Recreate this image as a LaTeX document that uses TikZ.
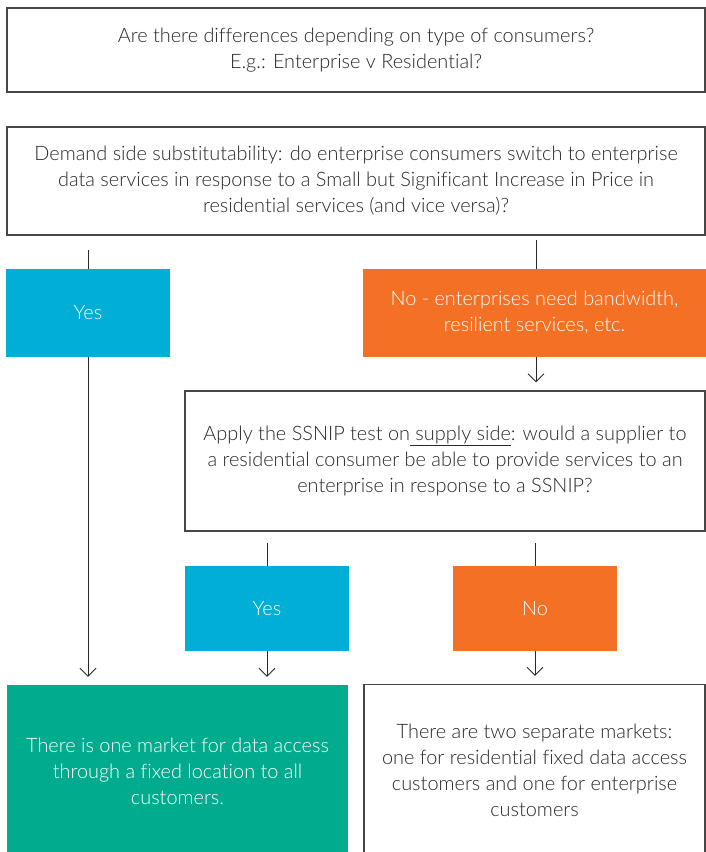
\documentclass[tikz,border=0pt]{standalone}
\usepackage{fontspec}
\setmainfont{Lato}[UprightFont=* Light, Ligatures=NoCommon]
\usetikzlibrary{arrows.meta}
\definecolor{cyanbox}{RGB}{0,174,214}
\definecolor{orangebox}{RGB}{243,112,36}
\definecolor{greenbox}{RGB}{0,171,142}
\definecolor{inkgray}{RGB}{40,40,40}
\definecolor{bordergray}{RGB}{70,70,70}
\begin{document}
\begin{tikzpicture}[x=1pt,y=-1pt,
  base/.style={rectangle, inner sep=0pt, align=center, font=\fontsize{19.9}{26}\selectfont},
  whitebox/.style={base, draw=bordergray, line width=1.2pt, fill=white, text=inkgray},
  cyanfill/.style={base, fill=cyanbox, text=white},
  orangefill/.style={base, fill=orangebox, text=white},
  greenfill/.style={base, fill=greenbox, text=white},
  link/.style={draw=inkgray, line width=0.9pt},
  arr/.style={link, -{Straight Barb[length=8pt,width=16pt]}, shorten >=8pt}
]
\useasboundingbox (0,0) rectangle (706,852);
\fill[white] (0,0) rectangle (706,852);

\node[whitebox, minimum width=698pt, minimum height=84pt] (q1) at (356,50)
  {Are there differences depending on type of consumers?\\E.g.: Enterprise v Residential?};
\node[whitebox, minimum width=698pt, minimum height=108pt] (q2) at (356,181)
  {Demand side substitutability: do enterprise consumers switch to enterprise\\data services in response to a Small but Significant Increase in Price in\\residential services (and vice versa)?};
\node[cyanfill, minimum width=164pt, minimum height=88pt] (yes1) at (88,313) {Yes};
\node[orangefill, minimum width=343pt, minimum height=88pt] (no1) at (534.5,313)
  {No - enterprises need bandwidth,\\resilient services, etc.};
\node[whitebox, minimum width=520pt, minimum height=140pt] (q3) at (445,461)
  {Apply the SSNIP test on\underline{ supply side}: would a supplier to\\a residential consumer be able to provide services to an\\enterprise in response to a SSNIP?};
\node[cyanfill, minimum width=164pt, minimum height=85pt] (yes2) at (267,608.5) {Yes};
\node[orangefill, minimum width=164pt, minimum height=85pt] (no2) at (535,608.5) {No};
\node[greenfill, minimum width=341pt, minimum height=172pt] (res1) at (177.5,771)
  {There is one market for data access\\through a fixed location to all\\customers.};
\node[whitebox, minimum width=341pt, minimum height=172pt] (res2) at (534.5,770.5)
  {There are two separate markets:\\one for residential fixed data access\\customers and one for enterprise\\customers};

\coordinate (s1) at (88,250);
\coordinate (s2) at (536,240);
\coordinate (s3) at (267,543);
\coordinate (s4) at (535,543);

\draw[link] (s1) -- (s1 |- yes1.north);
\draw[arr] (yes1.south) -- (yes1.south |- res1.north);
\draw[link] (s2) -- (s2 |- no1.north);
\draw[arr] (s2 |- no1.south) -- (s2 |- q3.north);
\draw[link] (s3) -- (s3 |- yes2.north);
\draw[arr] (yes2.south) -- (yes2.south |- res1.north);
\draw[link] (s4) -- (s4 |- no2.north);
\draw[arr] (no2.south) -- (no2.south |- res2.north);
\end{tikzpicture}
\end{document}
